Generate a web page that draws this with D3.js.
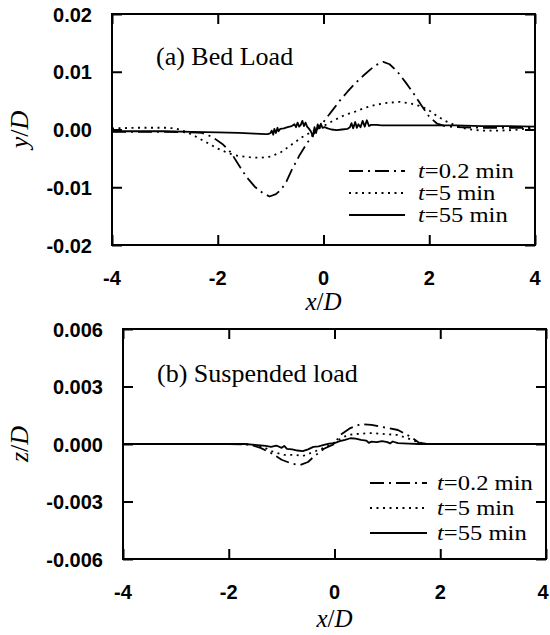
<!DOCTYPE html>
<html><head><meta charset="utf-8">
<script src="https://cdn.jsdelivr.net/npm/d3@7"></script>
<style>
html,body{margin:0;padding:0;background:#fff;}
svg{display:block;}
.tick-label{font-family:"Liberation Sans",Arial,sans-serif;font-weight:bold;font-size:20px;fill:#000;}
.serif{font-family:"Liberation Serif","Times New Roman",serif;fill:#000;}
</style>
</head><body>
<svg id="chart" width="550" height="635"></svg>
<script>
// ---------- DATA ----------
const xTicks = [-4, -2, 0, 2, 4];
const xTickLabels = ["-4", "-2", "0", "2", "4"];
const yTicksA = [0.02, 0.01, 0, -0.01, -0.02];
const yTickLabelsA = ["0.02", "0.01", "0.00", "-0.01", "-0.02"];
const yTicksB = [0.006, 0.003, 0, -0.003, -0.006];
const yTickLabelsB = ["0.006", "0.003", "0.000", "-0.003", "-0.006"];
const seriesNames = ["t=0.2 min", "t=5 min", "t=55 min"];

// (a) Bed load, y/D (values in units of 0.001)
const a02x = [-4, -3.5, -3, -2.5, -2.3, -2.1, -1.9, -1.75, -1.6, -1.45, -1.3, -1.15, -1.02, -0.9, -0.8, -0.7, -0.6, -0.45, -0.3, -0.15, 0, 0.15, 0.3, 0.45, 0.6, 0.75, 0.9, 1.0, 1.13, 1.25, 1.4, 1.55, 1.7, 1.85, 2.0, 2.15, 2.3, 2.5, 3, 3.5, 4];
const a02y = [-0.4, -0.4, -0.4, -0.5, -0.6, -1.3, -2.6, -4.0, -6.2, -8.3, -9.9, -11.0, -11.6, -11.2, -10.4, -9.0, -7.0, -4.4, -2.2, -0.3, 1.3, 3.1, 4.9, 6.5, 8.0, 9.3, 10.5, 11.2, 11.7, 11.3, 10.0, 8.2, 6.3, 4.2, 2.2, 1.0, 0.6, 0.4, 0.3, 0.3, 0.3];
const a5x = [-4, -3.5, -3, -2.8, -2.6, -2.4, -2.2, -2.0, -1.8, -1.6, -1.4, -1.2, -1.0, -0.8, -0.6, -0.4, -0.2, 0, 0.2, 0.4, 0.6, 0.8, 1.0, 1.2, 1.45, 1.7, 1.85, 2.0, 2.15, 2.3, 2.5, 2.7, 3.0, 3.3, 3.6, 3.8, 4];
const a5y = [0.2, 0.3, 0.3, 0.2, -0.4, -1.3, -2.3, -3.3, -4.1, -4.6, -4.8, -4.9, -4.7, -3.9, -2.6, -1.3, -0.3, 0.6, 1.6, 2.5, 3.1, 3.8, 4.3, 4.6, 4.8, 4.4, 4.0, 3.3, 2.3, 1.5, 0.7, 0.1, -0.2, -0.2, -0.1, 0.1, 0.3];
const a55x = [-4, -3.5, -3, -2.5, -2, -1.6, -1.3, -1.1, -1.05, -1.0, -0.98, -0.95, -0.93, -0.9, -0.87, -0.85, -0.82, -0.75, -0.68, -0.6, -0.55, -0.52, -0.49, -0.46, -0.43, -0.40, -0.37, -0.34, -0.31, -0.28, -0.24, -0.2, -0.17, -0.14, -0.11, -0.08, -0.05, -0.02, 0.02, 0.08, 0.15, 0.25, 0.35, 0.45, 0.5, 0.53, 0.56, 0.6, 0.63, 0.66, 0.7, 0.74, 0.78, 0.82, 0.86, 0.9, 1.0, 1.1, 1.3, 1.6, 2, 2.5, 3, 3.5, 4];
const a55y = [-0.3, -0.3, -0.3, -0.4, -0.5, -0.6, -0.7, -0.8, -0.8, -0.6, -0.2, -0.9, 0.1, -0.6, 0.3, -0.3, 0.1, 0.2, 0.4, 0.6, 0.9, 0.4, 1.2, 0.5, 0.8, 1.5, 0.6, 1.2, 0.5, 0.2, -0.3, -1.2, 0.4, -0.6, 0.9, 0.2, 1.0, 0.3, 0.4, 0.2, 0.0, -0.1, 0.0, 0.1, 0.4, 1.1, 0.2, 1.3, 0.3, 0.9, 0.4, 1.5, 0.5, 1.6, 0.6, 0.8, 0.8, 0.7, 0.7, 0.7, 0.7, 0.7, 0.6, 0.6, 0.5];

// (b) Suspended load, z/D (values in units of 0.0001)
const b02x = [-4, -3, -2, -1.6, -1.4, -1.2, -1.0, -0.8, -0.65, -0.5, -0.4, -0.2, 0, 0.1, 0.3, 0.5, 0.7, 0.9, 1.2, 1.45, 1.6, 1.8, 2.5, 4];
const b02y = [0, 0, 0, -0.3, -2, -4.7, -8.2, -10.3, -11, -9.4, -6.8, -2.5, 0, 4.5, 8.3, 10.4, 10, 8.9, 7.3, 3.6, 0.6, 0, 0, 0];
const b5x = [-4, -2, -1.6, -1.35, -1.15, -0.95, -0.75, -0.6, -0.45, -0.3, -0.1, 0.1, 0.25, 0.45, 0.7, 0.95, 1.2, 1.4, 1.6, 1.75, 2.5, 4];
const b5y = [0, 0, -0.2, -1.6, -4.2, -5.7, -5.7, -6.3, -4.7, -3.1, -0.8, 2.5, 4.7, 5.3, 5.7, 5.2, 4.7, 2.8, 0.8, 0, 0, 0];
const b55x = [-4, -2, -1.7, -1.5, -1.3, -1.2, -1.1, -1.0, -0.95, -0.9, -0.8, -0.7, -0.6, -0.5, -0.4, -0.3, -0.2, -0.1, 0, 0.1, 0.2, 0.3, 0.4, 0.5, 0.6, 0.65, 0.7, 0.8, 0.9, 1.0, 1.05, 1.1, 1.2, 1.4, 1.6, 2, 4];
const b55y = [0, 0, 0, -0.5, -1.0, -1.5, -0.8, -2.0, -1.0, -2.5, -2.8, -3.4, -3.7, -2.8, -1.5, -1.2, -0.5, 0.2, 0.5, 1.5, 2.2, 3.0, 2.8, 2.2, 1.8, 0.6, 1.2, 1.0, 1.5, 1.0, 0.3, 1.3, 0.5, 0.2, 0, 0, 0];

// ---------- DRAW ----------
const W = 550;
const svg = d3.select("#chart");
const styles = [
  {dash: "14,5,2,5", cap: "butt"},
  {dash: "2,4.5", cap: "butt"},
  {dash: null, cap: "butt"}
];

function panel(opt) {
  const {left, right, top, bottom, yTicks, yLabels, yDomain, unit, series, title, yName, legend, id, xLabelDy} = opt;
  const x = d3.scaleLinear().domain([-4, 4]).range([left, right]);
  const y = d3.scaleLinear().domain(yDomain).range([bottom, top]);
  const g = svg.append("g");

  g.append("clipPath").attr("id", id).append("rect")
    .attr("x", left).attr("y", top).attr("width", right - left).attr("height", bottom - top);

  const line = d3.line().x(d => x(d[0])).y(d => y(d[1] * unit));
  series.forEach((s, i) => {
    const pts = s[0].map((v, k) => [v, s[1][k]]);
    g.append("path").attr("d", line(pts)).attr("clip-path", `url(#${id})`)
      .attr("fill", "none").attr("stroke", "#000").attr("stroke-width", 1.8)
      .attr("stroke-linejoin", "round")
      .attr("stroke-linecap", styles[i].cap)
      .attr("stroke-dasharray", styles[i].dash);
  });

  // axes with inward ticks
  const tl = 10;
  const axB = d3.axisBottom(x).tickValues(xTicks).tickSize(-tl).tickFormat("");
  const axT = d3.axisTop(x).tickValues(xTicks).tickSize(-tl).tickFormat("");
  const axL = d3.axisLeft(y).tickValues(yTicks).tickSize(-tl).tickFormat("");
  const axR = d3.axisRight(y).tickValues(yTicks).tickSize(-tl).tickFormat("");
  [[axB, `translate(0,${bottom})`], [axT, `translate(0,${top})`], [axL, `translate(${left},0)`], [axR, `translate(${right},0)`]]
    .forEach(([ax, tr]) => {
      const a = g.append("g").attr("transform", tr).call(ax);
      a.select(".domain").remove();
      a.selectAll("line").attr("stroke", "#000").attr("stroke-width", 2);
    });
  g.append("rect").attr("x", left).attr("y", top).attr("width", right - left).attr("height", bottom - top)
    .attr("fill", "none").attr("stroke", "#000").attr("stroke-width", 2);

  // tick labels
  xTicks.forEach((v, i) => {
    g.append("text").attr("class", "tick-label").attr("x", Math.min(x(v), W - 7)).attr("y", bottom + 40)
      .attr("text-anchor", "middle").text(xTickLabels[i]);
  });
  yTicks.forEach((v, i) => {
    g.append("text").attr("class", "tick-label").attr("x", left - 20).attr("y", y(v) + 7.5)
      .attr("text-anchor", "end").text(yLabels[i]);
  });

  // axis titles
  const xl = g.append("text").attr("class", "serif").attr("font-size", 25).attr("font-style", "italic")
    .attr("text-anchor", "middle").attr("x", (left + right) / 2).attr("y", bottom + xLabelDy);
  xl.append("tspan").text("x");
  xl.append("tspan").attr("font-style", "normal").text("/");
  xl.append("tspan").text("D");

  const yl = g.append("text").attr("class", "serif").attr("font-size", 26).attr("font-style", "italic")
    .attr("text-anchor", "middle").attr("transform", `translate(28,${(top + bottom) / 2}) rotate(-90)`);
  yl.append("tspan").text(yName);
  yl.append("tspan").attr("font-style", "normal").text("/");
  yl.append("tspan").text("D");

  // panel title
  g.append("text").attr("class", "serif").attr("font-size", 26)
    .attr("x", title.x).attr("y", title.y).text(title.text);

  // legend
  legend.rows.forEach((ry, i) => {
    g.append("line").attr("x1", legend.x1).attr("x2", legend.x2).attr("y1", ry).attr("y2", ry)
      .attr("stroke", "#000").attr("stroke-width", 1.8)
      .attr("stroke-dasharray", styles[i].dash);
    const parts = seriesNames[i].split("=");
    const t = g.append("text").attr("class", "serif").attr("font-size", 20.5)
      .attr("transform", `translate(${legend.tx},${ry + 7}) scale(1.2,1)`);
    t.append("tspan").attr("font-style", "italic").text(parts[0]);
    t.append("tspan").text("=" + parts[1]);
  });
}

panel({
  id: "clipA", left: 112, right: 535, top: 14, bottom: 245, xLabelDy: 65,
  yTicks: yTicksA, yLabels: yTickLabelsA, yDomain: [-0.02, 0.02], unit: 0.001,
  series: [[a02x, a02y], [a5x, a5y], [a55x, a55y]],
  title: {text: "(a) Bed Load", x: 156, y: 65}, yName: "y",
  legend: {x1: 349, x2: 405, tx: 418, rows: [171, 193, 215]}
});
panel({
  id: "clipB", left: 123, right: 546, top: 329, bottom: 559, xLabelDy: 68,
  yTicks: yTicksB, yLabels: yTickLabelsB, yDomain: [-0.006, 0.006], unit: 0.0001,
  series: [[b02x, b02y], [b5x, b5y], [b55x, b55y]],
  title: {text: "(b) Suspended load", x: 157, y: 382}, yName: "z",
  legend: {x1: 370, x2: 427, tx: 437, rows: [483, 508, 533]}
});
</script>
</body></html>
